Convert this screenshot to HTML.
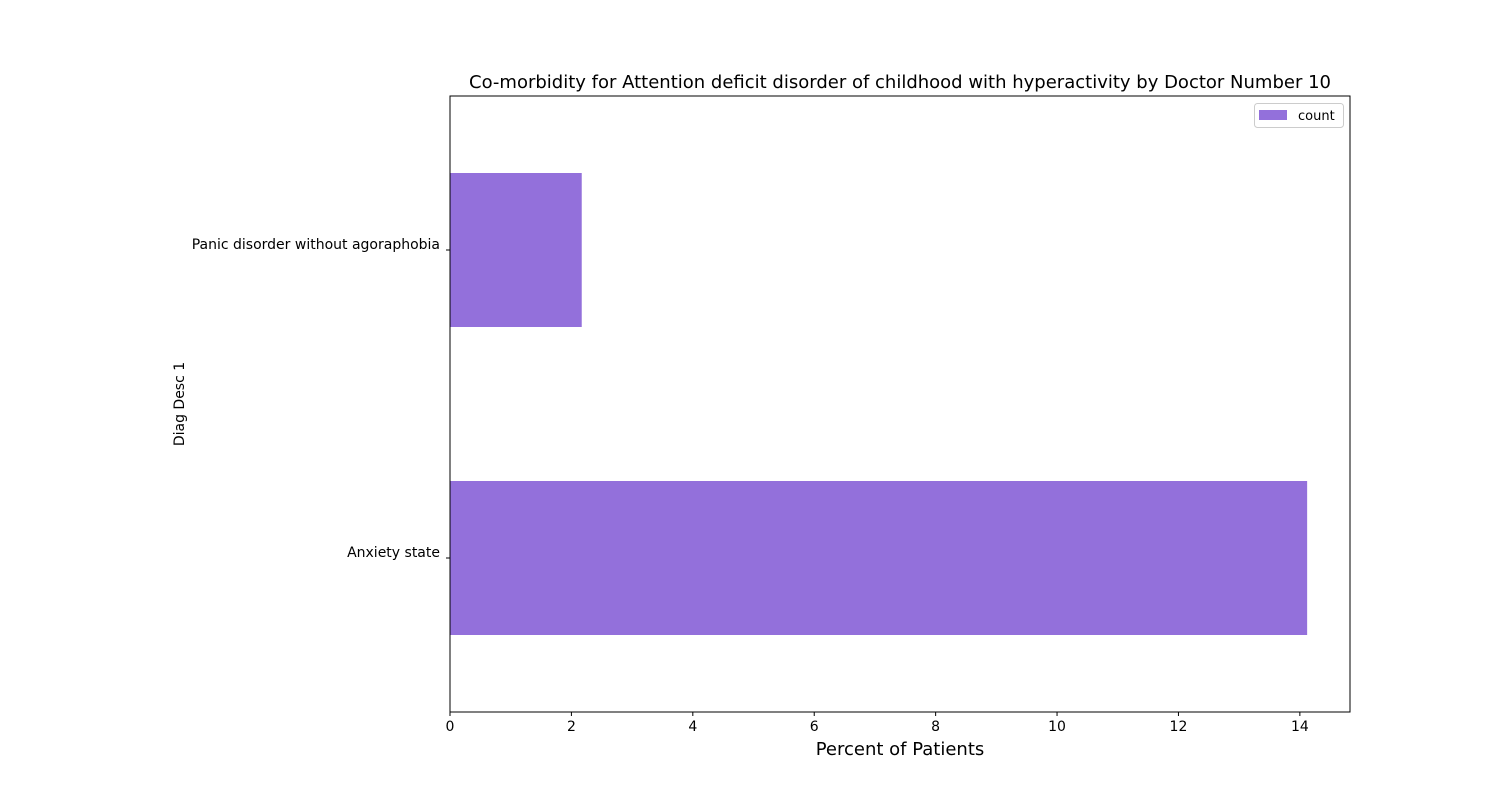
<!DOCTYPE html>
<html><head><meta charset="utf-8"><style>
body{margin:0;background:#fff;width:1500px;height:800px;overflow:hidden;font-family:"DejaVu Sans","Liberation Sans",sans-serif}
svg text{font-family:"DejaVu Sans","Liberation Sans",sans-serif}
</style></head><body>
<svg id="chart" width="1500" height="800" xmlns="http://www.w3.org/2000/svg"></svg>
<script>
const categories = ["Anxiety state", "Panic disorder without agoraphobia"];
const values = [14.12, 2.17];
const xTicks = [0, 2, 4, 6, 8, 10, 12, 14];
const L=450,R=1350,T=96,B=712;
const xMax=Math.max(...values)*1.05;
const xs=v=>L+(v/xMax)*(R-L);
const ys=i=>B-((i+0.5)/2)*(B-T);
const svg=document.getElementById('chart');
const NS='http://www.w3.org/2000/svg';
function mk(tag,attrs,parent){const e=document.createElementNS(NS,tag);for(const k in attrs)e.setAttribute(k,attrs[k]);(parent||svg).appendChild(e);return e;}
categories.forEach((c,i)=>{
  const r=mk('rect',{x:L,y:ys(i)-77,width:xs(values[i])-L,height:154,fill:'#9370db'});
  
  
  mk('line',{x1:L-4,x2:L,y1:ys(i),y2:ys(i),stroke:'#000'});
  const lb=mk('text',{x:L-10,y:ys(i)-1,'text-anchor':'end','font-size':14});
  lb.textContent=c;
  
  
});
xTicks.forEach(v=>{
  mk('line',{x1:xs(v),x2:xs(v),y1:B,y2:B+4,stroke:'#000'});
  const t=mk('text',{x:xs(v),y:B+19,'text-anchor':'middle','font-size':14});
  t.textContent=v;
  
  
});
const frame=mk('rect',{x:L,y:T,width:R-L,height:B-T,fill:'none',stroke:'#000','stroke-width':1});


const title=mk('text',{x:900,y:88,'text-anchor':'middle','font-size':18});
title.textContent='Co-morbidity for Attention deficit disorder of childhood with hyperactivity by Doctor Number 10';


const xl=mk('text',{x:900,y:755,'text-anchor':'middle','font-size':18});
xl.textContent='Percent of Patients';


const yl=mk('text',{x:184,y:404,'text-anchor':'middle','font-size':14,transform:'rotate(-90 184 404)'});
yl.textContent='Diag Desc 1';


const lg=mk('g',{});


mk('rect',{x:1254.5,y:103.5,width:89,height:24,rx:3,fill:'#fff',stroke:'#ccc'},lg);
mk('rect',{x:1259,y:110,width:28,height:10,fill:'#9370db'},lg);
const lt=mk('text',{x:1298,y:120,'font-size':13},lg);
lt.textContent='count';
</script>
</body></html>
